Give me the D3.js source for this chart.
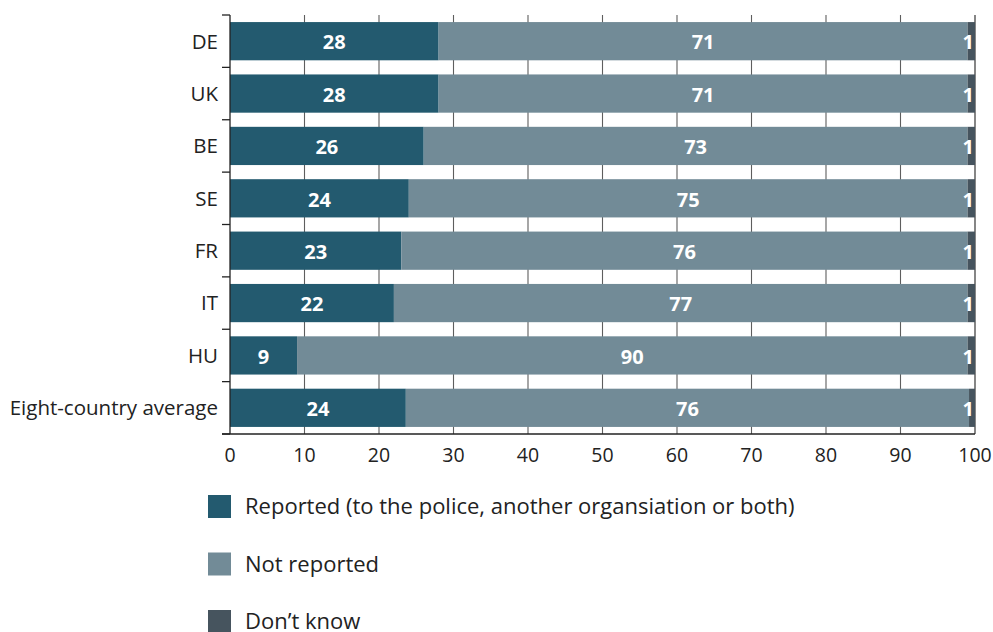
<!DOCTYPE html>
<html>
<head>
<meta charset="utf-8">
<script src="https://cdn.jsdelivr.net/npm/d3@7"></script>
<style>
  body { margin: 0; background: #fff; }
  svg { display: block; font-family: "Open Sans", "Noto Sans", sans-serif; }
</style>
</head>
<body>
<svg id="chart" width="993" height="632"></svg>
<script>
// Share of incidents reported, by country (%)
const categories = ["DE", "UK", "BE", "SE", "FR", "IT", "HU", "Eight-country average"];
const reported    = [28, 28, 26, 24, 23, 22, 9, 23.6];
const notReported = [71, 71, 73, 75, 76, 77, 90, 75.6];
const dontKnow    = [1, 1, 1, 1, 1, 1, 1, 0.8];
const xTicks = [0, 10, 20, 30, 40, 50, 60, 70, 80, 90, 100];
const seriesNames = ["Reported (to the police, another organsiation or both)", "Not reported", "Don\u2019t know"];
const seriesColors = ["#235a6f", "#728b97", "#46545e"];

const svg = d3.select("#chart");
const plotLeft = 230, plotRight = 975, plotTop = 15, plotBottom = 434;

const x = d3.scaleLinear().domain([0, 100]).range([plotLeft, plotRight]);
const y = d3.scaleBand().domain(categories).range([plotTop, plotBottom])
  .paddingInner(0.27).paddingOuter(0.135);

// vertical grid lines
svg.append("g").selectAll("line").data(xTicks.filter(t => t > 0)).join("line")
  .attr("x1", d => x(d)).attr("x2", d => x(d))
  .attr("y1", plotTop).attr("y2", plotBottom)
  .attr("stroke", d => d === 100 ? "#222" : "#5e5e5e")
  .attr("stroke-width", 1.1);

// stacked rows
const rows = categories.map((c, i) => {
  const vals = [reported[i], notReported[i], dontKnow[i]];
  let acc = 0;
  return vals.map((v, k) => {
    const seg = { cat: c, k, v, x0: acc, x1: acc + v };
    acc += v;
    return seg;
  });
}).flat();

const bh = y.bandwidth();
svg.append("g").selectAll("rect").data(rows).join("rect")
  .attr("x", d => x(d.x0))
  .attr("y", d => y(d.cat))
  .attr("width", d => x(d.x1) - x(d.x0))
  .attr("height", bh)
  .attr("fill", d => seriesColors[d.k]);

svg.append("g").selectAll("text").data(rows).join("text")
  .attr("x", d => d.k === 2 ? x(d.x1) - 1 : (x(d.x0) + x(d.x1)) / 2)
  .attr("y", d => y(d.cat) + bh / 2 + 1)
  .attr("dy", "0.36em")
  .attr("text-anchor", d => d.k === 2 ? "end" : "middle")
  .attr("fill", "#fff")
  .attr("font-weight", "bold")
  .attr("font-size", 20)
  .text(d => d3.format(".0f")(d.v));

// left axis: line with ticks at band boundaries
const step = y.step();
const bounds = d3.range(categories.length + 1).map(i => plotTop + i * step);
const ax = svg.append("g");
ax.append("line").attr("x1", plotLeft).attr("x2", plotLeft).attr("y1", plotTop).attr("y2", plotBottom)
  .attr("stroke", "#222").attr("stroke-width", 1.3);
ax.selectAll("line.tk").data(bounds).join("line").attr("class", "tk")
  .attr("x1", plotLeft - 8).attr("x2", plotLeft).attr("y1", d => d).attr("y2", d => d)
  .attr("stroke", "#222").attr("stroke-width", 1.3);
ax.append("line").attr("x1", plotLeft - 8).attr("x2", plotRight).attr("y1", plotBottom).attr("y2", plotBottom)
  .attr("stroke", "#222").attr("stroke-width", 1.3);

ax.selectAll("text.cat").data(categories).join("text").attr("class", "cat")
  .attr("x", plotLeft - 12)
  .attr("y", d => y(d) + bh / 2)
  .attr("dy", "0.36em")
  .attr("text-anchor", "end")
  .attr("font-size", 20.5)
  .attr("fill", "#222")
  .text(d => d);

// bottom tick labels
ax.selectAll("text.xt").data(xTicks).join("text").attr("class", "xt")
  .attr("x", d => x(d))
  .attr("y", plotBottom + 21)
  .attr("dy", "0.36em")
  .attr("text-anchor", "middle")
  .attr("font-size", 19.5)
  .attr("fill", "#222")
  .text(d => d);

// legend
const lg = svg.append("g").selectAll("g").data(seriesNames).join("g")
  .attr("transform", (d, i) => `translate(208, ${495 + i * 57.5})`);
lg.append("rect").attr("width", 23).attr("height", 23)
  .attr("fill", (d, i) => seriesColors[i]);
lg.append("text").attr("x", 37).attr("y", 11.5).attr("dy", "0.36em")
  .attr("font-size", 22).attr("fill", "#222")
  .text(d => d);
</script>
</body>
</html>
